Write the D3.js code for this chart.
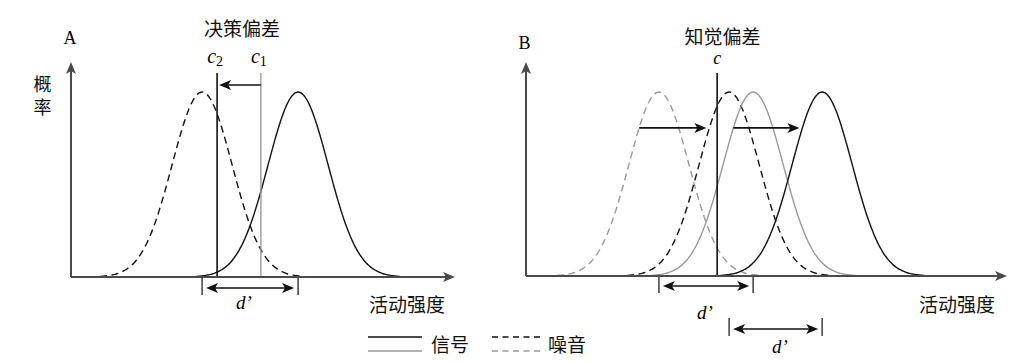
<!DOCTYPE html>
<html>
<head>
<meta charset="utf-8">
<script src="https://cdn.jsdelivr.net/npm/d3@7"></script>
<style>
  html, body { margin: 0; padding: 0; background: #fff; }
  svg { display: block; }
  .cjk { font-family: "Noto Sans CJK SC", "Noto Sans", sans-serif; }
  .latin { font-family: "Liberation Serif", "DejaVu Serif", serif; }
</style>
</head>
<body>
<script>
// ---------- data ----------
const sigma = 1;              // common SD of all distributions
const tailExtent = 3.4;       // curves drawn over mean ± tailExtent·sigma
// Panel A: decision bias
const aTitle = "决策偏差";
const aCurveKinds = ["noise", "signal"];
const aCurveMeans = [4.37, 7.57];
const aCriterionLabels = ["c2", "c1"];
const aCriterionValues = [4.87, 6.33];
const aDomain = [0, 12.8];
// Panel B: perceptual bias
const bTitle = "知觉偏差";
const bCurveKinds = ["noise-old", "noise-new", "signal-old", "signal-new"];
const bCurveMeans = [4.43, 6.77, 7.57, 9.87];
const bCriterionLabel = "c";
const bCriterionValue = 6.37;
const bDomain = [0, 16.03];
const shiftLevel = 0.805;     // relative height of shift arrows
// text
const yLabel = "概率";
const xLabel = "活动强度";
const legendLabels = ["信号", "噪音"];

// ---------- drawing ----------
const W = 1014, H = 363;
const svg = d3.select("body").append("svg").attr("width", W).attr("height", H);

const AX = "#4a4a4a", GRAY = "#9a9a9a", BLACK = "#111";

function gaussPoints(mu) {
  const pts = [];
  for (let t = -tailExtent; t <= tailExtent + 1e-9; t += 0.04) {
    pts.push([mu + t * sigma, Math.exp(-(t * t) / 2)]);
  }
  return pts;
}

function headH(g, tx, ty, dir, color) {
  g.append("path")
    .attr("d", `M${tx},${ty} L${tx - dir * 12},${ty - 5} L${tx - dir * 9},${ty} L${tx - dir * 12},${ty + 5} Z`)
    .attr("fill", color || BLACK);
}
function headUp(g, tx, ty, color) {
  g.append("path")
    .attr("d", `M${tx},${ty} L${tx - 5},${ty + 12} L${tx},${ty + 9} L${tx + 5},${ty + 12} Z`)
    .attr("fill", color || AX);
}

function axes(g, x, y, xEnd) {
  const x0 = x.range()[0], y0 = y(0);
  g.append("line").attr("x1", x0).attr("x2", x0).attr("y1", y0).attr("y2", 66)
    .attr("stroke", AX).attr("stroke-width", 2);
  headUp(g, x0, 62, AX);
  g.append("line").attr("x1", x0).attr("x2", xEnd - 6).attr("y1", y0).attr("y2", y0)
    .attr("stroke", AX).attr("stroke-width", 2);
  headH(g, xEnd, y0, 1, AX);
}

function curve(g, x, y, mu, color, dashed) {
  const line = d3.line().x(d => x(d[0])).y(d => y(d[1])).curve(d3.curveBasis);
  g.append("path").datum(gaussPoints(mu)).attr("d", line)
    .attr("fill", "none").attr("stroke", color).attr("stroke-width", 1.4)
    .attr("stroke-dasharray", dashed ? "7,4.5" : null);
}

function bracket(g, xa, xb, yTop, yBot, yArrow) {
  [xa, xb].forEach(xx => g.append("line").attr("x1", xx).attr("x2", xx)
    .attr("y1", yTop).attr("y2", yBot).attr("stroke", AX).attr("stroke-width", 1.6));
  g.append("line").attr("x1", xa + 10).attr("x2", xb - 10).attr("y1", yArrow).attr("y2", yArrow)
    .attr("stroke", BLACK).attr("stroke-width", 1.6);
  headH(g, xa + 4, yArrow, -1);
  headH(g, xb - 4, yArrow, 1);
}

function dLabel(g, cx, base) {
  g.append("text").attr("class", "latin").attr("x", cx).attr("y", base)
    .attr("text-anchor", "middle").attr("font-size", 19).attr("font-style", "italic")
    .text("d’");
}

function cjk(g, txt, x, y, size, anchor) {
  return g.append("text").attr("class", "cjk").attr("x", x).attr("y", y)
    .attr("font-size", size).attr("text-anchor", anchor || "middle")
    .attr("dominant-baseline", "central").attr("fill", "#111").text(txt);
}

// ===== Panel A =====
{
  const g = svg.append("g");
  const x = d3.scaleLinear().domain(aDomain).range([71, 455]);
  const y = d3.scaleLinear().domain([0, 1]).range([277, 92]);
  aCurveKinds.forEach((k, i) => curve(g, x, y, aCurveMeans[i], BLACK, k === "noise"));
  const cx2 = x(aCriterionValues[0]), cx1 = x(aCriterionValues[1]);
  g.append("line").attr("x1", cx2).attr("x2", cx2).attr("y1", 73).attr("y2", y(0))
    .attr("stroke", BLACK).attr("stroke-width", 1.6);
  g.append("line").attr("x1", cx1).attr("x2", cx1).attr("y1", 73).attr("y2", y(0))
    .attr("stroke", GRAY).attr("stroke-width", 1.4);
  g.append("line").attr("x1", cx1).attr("x2", cx2 + 8).attr("y1", 85).attr("y2", 85)
    .attr("stroke", BLACK).attr("stroke-width", 1.6);
  headH(g, cx2 + 2, 85, -1);
  axes(g, x, y, 455);
  aCriterionLabels.forEach((lab, i) => {
    const t = g.append("text").attr("class", "latin").attr("x", x(aCriterionValues[i]) - 2).attr("y", 63)
      .attr("text-anchor", "middle").attr("font-size", 20).attr("font-style", "italic");
    t.append("tspan").text(lab[0]);
    t.append("tspan").attr("font-size", 14).attr("font-style", "normal").attr("dy", 3).text(lab[1]);
  });
  g.append("text").attr("class", "latin").attr("x", 70).attr("y", 44).attr("text-anchor", "middle")
    .attr("font-size", 18).text("A");
  cjk(g, aTitle, 242, 27.5, 19);
  g.append("text").attr("class", "cjk").attr("x", 42.5).attr("y", 75)
    .attr("font-size", 18).attr("writing-mode", "vertical-rl")
    .attr("letter-spacing", 5).attr("fill", "#111").text(yLabel);
  cjk(g, xLabel, 407, 303, 19);
  bracket(g, x(aCurveMeans[0]), x(aCurveMeans[1]), y(0), 295, 288);
  dLabel(g, 244, 309);
}

// ===== Panel B =====
{
  const g = svg.append("g");
  const x = d3.scaleLinear().domain(bDomain).range([526, 1007]);
  const y = d3.scaleLinear().domain([0, 1]).range([276, 92]);
  bCurveKinds.forEach((k, i) => {
    const color = k.endsWith("old") ? GRAY : BLACK;
    curve(g, x, y, bCurveMeans[i], color, k.startsWith("noise"));
  });
  const cx = x(bCriterionValue);
  g.append("line").attr("x1", cx).attr("x2", cx).attr("y1", 73).attr("y2", y(0))
    .attr("stroke", BLACK).attr("stroke-width", 1.6);
  const off = sigma * Math.sqrt(-2 * Math.log(shiftLevel));
  [[0, 1], [2, 3]].forEach(([a, b]) => {
    const xs = x(bCurveMeans[a] - off), xe = x(bCurveMeans[b] - off) - 3;
    const yy = y(shiftLevel);
    g.append("line").attr("x1", xs).attr("x2", xe - 8).attr("y1", yy).attr("y2", yy)
      .attr("stroke", BLACK).attr("stroke-width", 1.6);
    headH(g, xe, yy, 1);
  });
  axes(g, x, y, 1007);
  g.append("text").attr("class", "latin").attr("x", cx).attr("y", 64)
    .attr("text-anchor", "middle").attr("font-size", 18).attr("font-style", "italic").text(bCriterionLabel);
  g.append("text").attr("class", "latin").attr("x", 524.5).attr("y", 49).attr("text-anchor", "middle")
    .attr("font-size", 18).text("B");
  cjk(g, bTitle, 722.5, 35, 19);
  cjk(g, xLabel, 957, 303, 19);
  bracket(g, x(bCurveMeans[0]), x(bCurveMeans[2]), y(0), 293, 286);
  dLabel(g, 705, 319);
  bracket(g, x(bCurveMeans[1]), x(bCurveMeans[3]), 318, 336, 329);
  dLabel(g, 780, 353);
}

// ===== Legend =====
{
  const g = svg.append("g");
  g.append("line").attr("x1", 368).attr("x2", 422).attr("y1", 337).attr("y2", 337)
    .attr("stroke", BLACK).attr("stroke-width", 1.4);
  g.append("line").attr("x1", 368).attr("x2", 422).attr("y1", 351).attr("y2", 351)
    .attr("stroke", GRAY).attr("stroke-width", 1.4);
  cjk(g, legendLabels[0], 431, 343, 19, "start");
  g.append("line").attr("x1", 492).attr("x2", 540).attr("y1", 337).attr("y2", 337)
    .attr("stroke", BLACK).attr("stroke-width", 1.4).attr("stroke-dasharray", "6,4.5");
  g.append("line").attr("x1", 492).attr("x2", 540).attr("y1", 351).attr("y2", 351)
    .attr("stroke", GRAY).attr("stroke-width", 1.4).attr("stroke-dasharray", "6,4.5");
  cjk(g, legendLabels[1], 548, 343, 19, "start");
}
</script>
</body>
</html>
